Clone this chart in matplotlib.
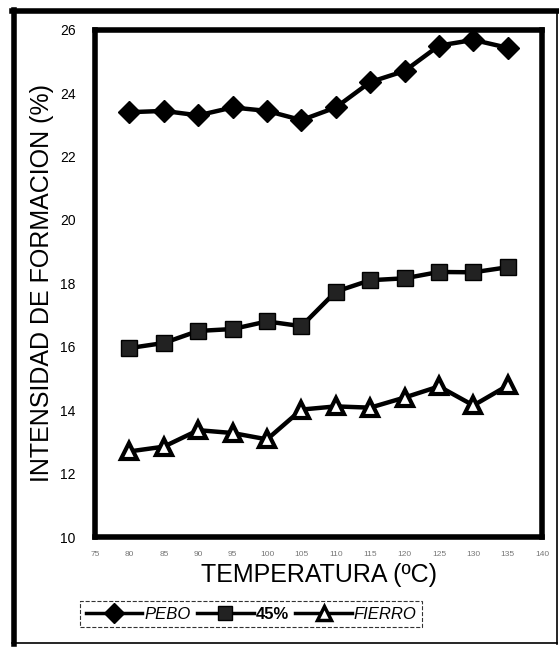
import matplotlib
matplotlib.use("Agg")
import matplotlib.pyplot as plt
from matplotlib.lines import Line2D

# temperatures (degC) and formation intensity (%)
temps = [80, 85, 90, 95, 100, 105, 110, 115, 120, 125, 130, 135]
pebo = [23.4, 23.44, 23.3, 23.55, 23.44, 23.15, 23.55, 24.35, 24.7, 25.5, 25.68, 25.43]
pct45 = [15.96, 16.12, 16.5, 16.56, 16.8, 16.65, 17.74, 18.1, 18.16, 18.36, 18.35, 18.51]
fierro = [12.7, 12.85, 13.37, 13.28, 13.08, 14.02, 14.12, 14.08, 14.4, 14.75, 14.15, 14.78]

xticks = [75, 80, 85, 90, 95, 100, 105, 110, 115, 120, 125, 130, 135, 140]
yticks = [10, 12, 14, 16, 18, 20, 22, 24, 26]

plt.rcParams['font.family'] = ['Liberation Sans', 'DejaVu Sans']

fig = plt.figure(figsize=(5.59, 6.47), dpi=100)
ax = fig.add_axes([0.170, 0.170, 0.800, 0.784])

ax.plot(temps, pebo, color='black', lw=3.2, marker='D', ms=11, mfc='black', mec='black', label='PEBO')
ax.plot(temps, pct45, color='black', lw=3.2, marker='s', ms=11, mfc='#222222', mec='black', label='45%')
ax.plot(temps, fierro, color='black', lw=3.2, marker='^', ms=12, mfc='white', mec='black', mew=3, label='FIERRO')

ax.set_xlim(75, 140)
ax.set_ylim(10, 26)
ax.set_xticks(xticks)
ax.set_yticks(yticks)
ax.set_xticklabels([str(t) for t in xticks], fontsize=6, color='#777777')
ax.tick_params(axis='x', length=0, pad=10)
ax.tick_params(axis='y', length=0, pad=14, labelsize=10)
for s in ax.spines.values():
    s.set_linewidth(4)

ax.set_xlabel('TEMPERATURA (ºC)', fontsize=18, labelpad=4)
ax.set_ylabel('INTENSIDAD DE FORMACION (%)', fontsize=18, labelpad=4)

leg = fig.legend(handles=[
    Line2D([], [], color='black', lw=2.5, marker='D', ms=10, mfc='black', mec='black'),
    Line2D([], [], color='black', lw=2.5, marker='s', ms=10, mfc='#222222', mec='black'),
    Line2D([], [], color='black', lw=2.5, marker='^', ms=10, mfc='white', mec='black', mew=2.5)],
    labels=['PEBO', '45%', 'FIERRO'], loc='center left',
    bbox_to_anchor=(0.128, 0.051), ncol=3, frameon=True, fancybox=False,
    handlelength=3.4, handletextpad=0.1, columnspacing=0.4, borderpad=0.35,
    prop={'size': 12})
leg.get_frame().set_edgecolor('black')
leg.get_frame().set_linewidth(0.8)
leg.get_frame().set_linestyle('--')
for t in leg.get_texts():
    if t.get_text() != '45%':
        t.set_style('italic')
    else:
        t.set_weight('bold')

# outer page frame: heavy top/left, thin right/bottom
fig.add_artist(Line2D([0.025, 0.025], [0.005, 0.985], color='black', lw=4, transform=fig.transFigure))
fig.add_artist(Line2D([0.022, 0.997], [0.983, 0.983], color='black', lw=4, transform=fig.transFigure))
fig.add_artist(Line2D([0.996, 0.996], [0.005, 0.985], color='black', lw=1.2, transform=fig.transFigure))
fig.add_artist(Line2D([0.022, 0.997], [0.006, 0.006], color='black', lw=1.2, transform=fig.transFigure))

fig.savefig('out.png', dpi=100)
